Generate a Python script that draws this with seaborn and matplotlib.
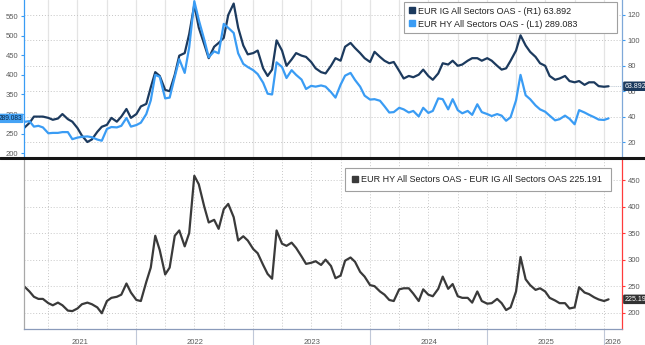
import numpy as np
import pandas as pd
import matplotlib
matplotlib.use("Agg")
import matplotlib.pyplot as plt
import matplotlib.dates as mdates
import matplotlib.transforms as mtransforms
from matplotlib.lines import Line2D
import seaborn as sns

# ---- semi-monthly observations, Jan 2021 - Jan 2026 ----
dates = pd.date_range("2021-01-15", periods=121, freq="SMS")

hy_oas = [
    280, 282, 268, 270, 266, 251, 252, 252, 254, 254,
    236, 240, 242, 243, 241, 235, 232, 262, 267, 266,
    270, 290, 268, 272, 278, 300, 335, 400, 395, 340,
    342, 395, 440, 405, 470, 588, 540, 490, 445, 460,
    455, 530, 520, 507, 455, 428, 420, 412, 402, 380,
    352, 350, 432, 420, 392, 412, 400, 388, 364, 372,
    370, 373, 370, 356, 342, 375, 398, 405, 387, 370,
    347, 337, 338, 334, 320, 304, 305, 316, 312, 304,
    308, 294, 316, 303, 308, 340, 338, 312, 338, 310,
    302, 308, 298, 325, 305, 300, 295, 300, 296, 283,
    292, 335, 400, 348, 338, 322, 312, 306, 296, 284,
    287, 296, 288, 274, 310, 304, 298, 292, 286, 285,
    289.083,
]

ig_oas = [
    31, 35, 40, 40, 40, 39, 37.5, 38.5, 42, 38,
    36, 31, 25, 20, 22, 28, 32, 33.5, 39, 36,
    40, 46, 39, 42, 48, 50, 63, 75, 72, 61,
    60, 73, 88, 90, 105, 128, 110, 97, 86, 95,
    98, 102, 120, 129, 110, 96, 89, 90, 92, 78,
    72, 77, 100, 92, 80, 85, 90, 88, 87, 83,
    78, 75, 74, 80, 86, 84, 95, 98, 94, 90,
    86, 83, 91, 87, 84, 82, 83, 76, 70, 72,
    71, 73, 77, 72, 69, 74, 82, 81, 84, 80,
    81, 84, 86, 86, 84, 86, 84, 80, 77, 78,
    84, 92, 104, 96, 91, 87, 82, 80, 72, 69,
    70, 72, 68, 67, 68, 65, 67, 67, 64, 63.5,
    63.892,
]

hy_ig_spread = [
    250, 240, 230, 226, 226, 218, 214, 219, 214, 204,
    203, 208, 216, 219, 216, 210, 199, 222, 228, 230,
    234, 255, 238, 224, 222, 258, 285, 345, 318, 272,
    285, 345, 355, 325, 350, 458, 442, 400, 370, 375,
    358, 395, 405, 380, 336, 344, 336, 320, 312, 290,
    273, 264, 355, 330, 326, 332, 322, 306, 292, 294,
    297, 290, 300, 288, 265, 270, 298, 304, 296, 277,
    268, 252, 250, 240, 234, 224, 222, 244, 246, 246,
    236, 222, 244, 234, 231, 245, 268, 245, 254, 231,
    228, 228, 219, 240, 222, 217, 218, 226, 218, 205,
    210, 240, 305, 263, 252, 243, 246, 240, 228, 223,
    218, 218, 208, 210, 248, 238, 235, 229, 225, 222,
    225.191,
]

ig_label = "EUR IG All Sectors OAS - (R1) 63.892"
hy_label = "EUR HY All Sectors OAS - (L1) 289.083"
spread_label = "EUR HY All Sectors OAS - EUR IG All Sectors OAS 225.191"
hy_ticks = [200, 250, 300, 350, 400, 450, 500, 550]
ig_ticks = [20, 40, 60, 80, 100, 120]
spread_ticks = [200, 250, 300, 350, 400, 450]

df = pd.DataFrame({"date": dates, "hy": hy_oas, "ig": ig_oas, "spread": hy_ig_spread})

NAVY = "#1c3a5e"
BLUE = "#3a9cf4"
DARK = "#3a3a3a"
TICK_TXT = "#5a5a5a"

sns.set_style("white")
plt.rcParams["font.family"] = ["Liberation Sans", "DejaVu Sans"]

W, H = 645, 345
fig = plt.figure(figsize=(W / 100, H / 100), dpi=100)
fig.patch.set_facecolor("white")

x0, x1 = 24, 622
ax_ig = fig.add_axes([x0 / W, 1 - 157 / H, (x1 - x0) / W, 157 / H])
ax_hy = ax_ig.twinx()
ax_sp = fig.add_axes([x0 / W, 1 - 329 / H, (x1 - x0) / W, 170 / H])

sns.lineplot(data=df, x="date", y="ig", ax=ax_ig, color=NAVY, lw=1.6, legend=False)
sns.lineplot(data=df, x="date", y="hy", ax=ax_hy, color=BLUE, lw=1.6, legend=False)
sns.lineplot(data=df, x="date", y="spread", ax=ax_sp, color=DARK, lw=1.6, legend=False)

xmin = pd.Timestamp("2021-01-15")
xmax = pd.Timestamp("2026-02-26")
for a in (ax_ig, ax_hy, ax_sp):
    a.set_xlim(xmin, xmax)
    a.set_xlabel("")
    a.set_ylabel("")

# ---- top panel ----
HY_LIM = (190.5, 591)
IG_LIM = (8.2, 131.8)
ax_hy.set_ylim(*HY_LIM)
ax_ig.set_ylim(*IG_LIM)
ax_hy.set_yticks(hy_ticks)
ax_ig.set_yticks(ig_ticks)
ax_hy.yaxis.tick_left()
ax_ig.yaxis.tick_right()
for a in (ax_hy, ax_ig):
    a.tick_params(axis="y", length=2.5, width=0.8, color=BLUE, labelsize=5.5,
                  labelcolor=TICK_TXT, pad=1.5)
    a.tick_params(axis="x", length=0, labelbottom=False)
    for s in a.spines.values():
        s.set_visible(False)
ax_hy.spines["left"].set_visible(True)
ax_hy.spines["left"].set_color(BLUE)
ax_hy.spines["right"].set_visible(True)
ax_hy.spines["right"].set_color("#7fa8d8")
for s in ("left", "right"):
    ax_hy.spines[s].set_linewidth(0.9)

ax_ig.xaxis.set_major_locator(mdates.MonthLocator(bymonth=[1, 4, 7, 10]))
ax_ig.xaxis.grid(True, color="#e4e4e4", lw=0.9)
ax_ig.yaxis.grid(True, color="#c4c4c4", lw=0.7, linestyle=(0, (1, 2)))
ax_hy.grid(False)

# last-value tags
blend_hy = mtransforms.blended_transform_factory(ax_hy.transAxes, ax_hy.transData)
ax_hy.text(-0.003, hy_oas[-1], f"{hy_oas[-1]:.3f}", transform=blend_hy, ha="right",
           va="center", fontsize=4.8, color="#0b2440", clip_on=False, zorder=10,
           bbox=dict(boxstyle="round,pad=0.18", fc="#45a3f5", ec="none"))
ax_ig.plot([df["date"].iloc[-1], xmax], [ig_oas[-1]] * 2, color="#9aaabb", lw=0.6,
           ls=(0, (1, 1.5)), zorder=1)
ax_hy.text(1.004, (ig_oas[-1] - IG_LIM[0]) / (IG_LIM[1] - IG_LIM[0]), f"{ig_oas[-1]:.3f}",
           transform=ax_hy.transAxes, ha="left", va="center", fontsize=5,
           color="white", clip_on=False, zorder=10,
           bbox=dict(boxstyle="round,pad=0.18", fc=NAVY, ec="none"))

legend_style = dict(borderaxespad=0, fontsize=6.5, frameon=True, fancybox=False,
                    framealpha=1, edgecolor="#a0a0a0", handlelength=0.7,
                    handletextpad=0.3, mode="expand", loc="upper left")

top_handles = [
    Line2D([], [], marker="s", color=NAVY, linestyle="none", markersize=4.4),
    Line2D([], [], marker="s", color=BLUE, linestyle="none", markersize=4.4),
]
leg = ax_hy.legend(top_handles, [ig_label, hy_label],
                   bbox_to_anchor=(0.6355, 0.0, 0.3562, 0.987),
                   labelspacing=0.45, borderpad=0.5, **legend_style)
leg.get_frame().set_linewidth(0.8)
for t in leg.get_texts():
    t.set_color("#222222")

# ---- bottom panel ----
SP_LIM = (169.3, 489.6)
ax_sp.set_ylim(*SP_LIM)
ax_sp.set_yticks(spread_ticks)
ax_sp.yaxis.tick_right()
ax_sp.tick_params(axis="y", length=2.5, width=0.8, color="#ff3b3b", labelsize=5.5,
                  labelcolor=TICK_TXT, pad=1.5)
ax_sp.xaxis.set_major_locator(mdates.MonthLocator(bymonth=[1, 4, 7, 10]))
ax_sp.xaxis.set_minor_locator(mdates.MonthLocator())
ax_sp.tick_params(axis="x", which="both", length=2, width=0.6, color="#7a8cae",
                  labelbottom=False)
ax_sp.grid(True, which="major", color="#c8c8c8", lw=0.7, linestyle=(0, (1, 2)))
for s in ax_sp.spines.values():
    s.set_visible(False)
ax_sp.spines["right"].set_visible(True)
ax_sp.spines["right"].set_color("#ff3b3b")
ax_sp.spines["left"].set_visible(True)
ax_sp.spines["left"].set_color("#a8a8a8")
ax_sp.spines["bottom"].set_visible(True)
ax_sp.spines["bottom"].set_color("#8a9aba")
for s in ("left", "right", "bottom"):
    ax_sp.spines[s].set_linewidth(0.9)

blend_sp = mtransforms.blended_transform_factory(ax_sp.transData, ax_sp.transAxes)
for yr in range(2021, 2027):
    start = max(pd.Timestamp(f"{yr}-01-01"), xmin)
    end = min(pd.Timestamp(f"{yr + 1}-01-01"), xmax)
    mid = start + (end - start) / 2
    ax_sp.text(mid, -0.078, str(yr), transform=blend_sp, ha="center", va="center",
               fontsize=5.5, color=TICK_TXT, clip_on=False)
    if pd.Timestamp(f"{yr}-01-01") > xmin:
        jan = pd.Timestamp(f"{yr}-01-01")
        ax_sp.plot([jan, jan], [0, -0.1], transform=blend_sp, color="#c0c8d8", lw=0.8,
                   clip_on=False)

ax_sp.text(1.004, (hy_ig_spread[-1] - SP_LIM[0]) / (SP_LIM[1] - SP_LIM[0]),
           f"{hy_ig_spread[-1]:.2f}",
           transform=ax_sp.transAxes, ha="left", va="center", fontsize=5,
           color="white", clip_on=False, zorder=10,
           bbox=dict(boxstyle="round,pad=0.18", fc="#333333", ec="none"))

sp_handles = [Line2D([], [], marker="s", color=DARK, linestyle="none", markersize=4.4)]
leg2 = ax_sp.legend(sp_handles, [spread_label],
                    bbox_to_anchor=(0.5368, 0.0, 0.4448, 0.947),
                    borderpad=0.75, **legend_style)
leg2.get_frame().set_linewidth(0.8)
for t in leg2.get_texts():
    t.set_color("#222222")

# heavy divider between the two panels
fig.add_artist(Line2D([0, 1], [1 - 157.8 / H] * 2, transform=fig.transFigure,
                      color="#151515", lw=2.2))

fig.savefig("out.png", dpi=100, facecolor="white")
